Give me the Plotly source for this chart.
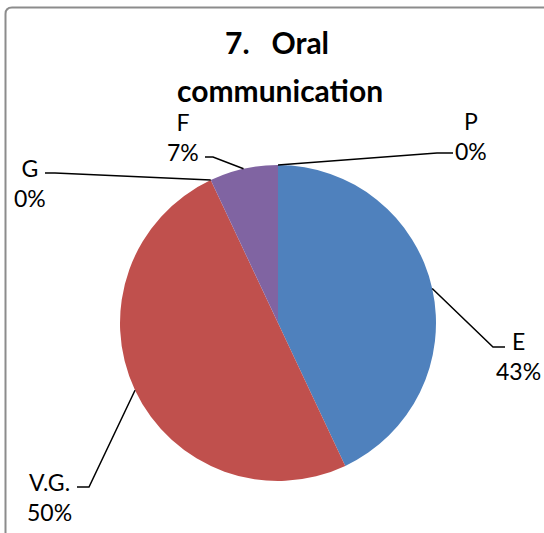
import math
import plotly.graph_objects as go

categories = ["E", "V.G.", "G", "F", "P"]
values = [43, 50, 0, 7, 0]
pct_labels = ["43%", "50%", "0%", "7%", "0%"]
colors = ["#4F81BD", "#C0504D", "#9BBB59", "#8064A2", "#4BACC6"]
title_lines = ["7.   Oral", "communication"]

W, H = 544, 533
CX, CY, R = 278, 323, 158
FONT = "Lato"

def px(x):
    return x / W

def py(y):
    return 1 - y / H

fig = go.Figure(go.Pie(
    labels=categories, values=values, sort=False, direction="clockwise",
    rotation=0, marker=dict(colors=colors, line=dict(width=0)),
    textinfo="none", hoverinfo="label+percent", showlegend=False,
    domain=dict(x=[px(CX - R), px(CX + R)], y=[py(CY + R), py(CY - R)]),
))

# mid-angle of each slice, clockwise from 12 o'clock
total = sum(values)
mids = []
acc = 0
for v in values:
    mids.append((acc + v / 2) / total * 360)
    acc += v

def edge(i):
    a = math.radians(mids[i])
    return CX + R * math.sin(a), CY - R * math.cos(a)

label_layout = {
    "E":    dict(elbow=(493, 347), tail=(505, 347), text=(518, 356)),
    "V.G.": dict(elbow=(89, 487), tail=(77, 487), text=(49, 497)),
    "G":    dict(elbow=(55, 173), tail=(45, 173), text=(30, 183)),
    "F":    dict(elbow=(213, 157), tail=(205, 157), text=(183, 137)),
    "P":    dict(elbow=(437, 153), tail=(453, 153), text=(471, 136)),
}

shapes = []
annotations = []
for i, c in enumerate(categories):
    ex, ey = edge(i)
    L = label_layout[c]
    (bx, by), (tx, ty) = L["elbow"], L["tail"]
    path = f"M {px(ex)} {py(ey)} L {px(bx)} {py(by)} L {px(tx)} {py(ty)}"
    shapes.append(dict(type="path", xref="paper", yref="paper", path=path,
                       line=dict(color="black", width=1.5)))
    lx, ly = L["text"]
    annotations.append(dict(
        x=px(lx), y=py(ly), xref="paper", yref="paper", showarrow=False,
        text=f"{c}<br>{pct_labels[i]}", align="center",
        xanchor="center", yanchor="middle",
        font=dict(family=FONT, size=23, color="black"),
    ))

annotations.append(dict(x=px(277), y=py(42), xref="paper", yref="paper",
                        showarrow=False, text=f"<b>{title_lines[0]}</b>",
                        xanchor="center", yanchor="middle",
                        font=dict(family=FONT, size=30, color="black")))
annotations.append(dict(x=px(280), y=py(90), xref="paper", yref="paper",
                        showarrow=False, text=f"<b>{title_lines[1]}</b>",
                        xanchor="center", yanchor="middle",
                        font=dict(family=FONT, size=30, color="black")))

# chart border (left and top edges visible)
shapes.append(dict(type="path", xref="paper", yref="paper",
                   path=f"M {px(5.5)} {py(H + 2)} L {px(5.5)} {py(14)} Q {px(5.5)} {py(7.5)} {px(12)} {py(7.5)} L {px(W + 2)} {py(7.5)}",
                   line=dict(color="#8c8c8c", width=2)))

fig.update_layout(
    width=W, height=H, margin=dict(l=0, r=0, t=0, b=0),
    paper_bgcolor="white", plot_bgcolor="white",
    shapes=shapes, annotations=annotations,
)
fig.write_html("out.html", config={"displayModeBar": False},
               post_script="document.body.style.margin='0';document.body.style.overflow='hidden';")
